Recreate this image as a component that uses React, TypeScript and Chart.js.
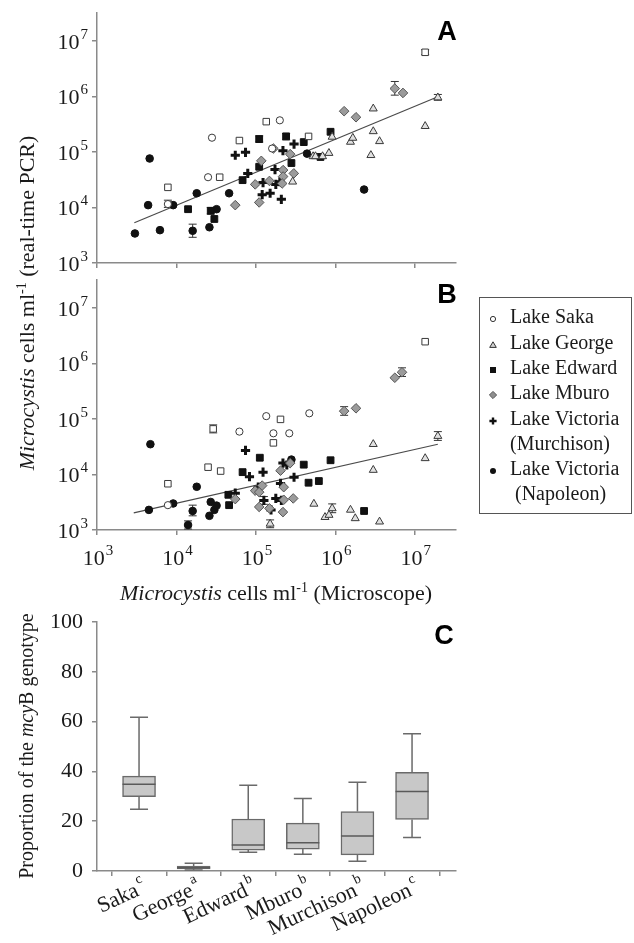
import React, { useEffect, useRef } from 'react';
import { Chart, registerables } from 'chart.js';
Chart.register(...registerables);

const W = 634;
const H = 943;
const SERIF = '"Liberation Serif", "Times New Roman", serif';
const SANS = '"Liberation Sans", Arial, sans-serif';
const AXIS = '#8a8a8a';
const TEXT = '#1a1a1a';

// ---------- log axes ----------
const LOG_TICKS = [1e3, 1e4, 1e5, 1e6, 1e7];
const Y_LOG_MIN = 1e3;
const Y_LOG_MAX = 31600000;
const X_LOG_MIN = 1e3;
const X_LOG_MAX = 33000000;

// ---------- Panel A: [microscope, real-time PCR] ----------
const A_SAKA = [[7800, 11500], [28000, 180000], [25000, 35000], [200000, 370000], [160000, 115000]];
const A_SAKA_SQ = [[7800, 23000], [35000, 35000], [62000, 160000], [135000, 350000], [460000, 190000], [13500000, 6200000]];
const A_GEORGE = [[290000, 29000], [525000, 83000], [562000, 83000], [690000, 83000], [830000, 95000], [910000, 186000], [1550000, 151000], [1660000, 178000], [2800000, 87000], [3000000, 600000], [3000000, 234000], [3600000, 155000], [13500000, 290000], [19500000, 950000]];
const A_EDWARD = [[14000, 9300], [27000, 8700], [30000, 6200], [68000, 31000], [110000, 170000], [110000, 54000], [240000, 190000], [280000, 63000], [400000, 150000], [870000, 230000], [650000, 81000]];
const A_MBURO = [[55000, 11000], [110000, 12300], [98000, 26000], [117000, 69000], [148000, 30000], [220000, 47000], [220000, 36000], [300000, 41000], [270000, 91000], [166000, 115000], [214000, 27000], [1290000, 540000], [1820000, 420000], [5600000, 1380000], [7100000, 1150000]];
const A_MURCH = [[55000, 87000], [74000, 98000], [79000, 41000], [123000, 28000], [174000, 48000], [120000, 17000], [151000, 18000], [178000, 26000], [200000, 29000], [219000, 105000], [302000, 138000], [209000, 14000]];
const A_NAPO = [[3000, 3400], [4400, 11000], [4600, 76000], [6200, 3900], [9100, 11000], [16000, 3800], [26000, 4400], [32000, 9300], [18000, 18000], [46000, 18000], [440000, 93000], [2300000, 21000]];
const A_FIT = [[2950, 5300], [19500000, 980000]];
// error bars: [x, low, high]
const A_ERR = [[16000, 2900, 5000], [7800, 10000, 13500], [5600000, 1050000, 1850000], [27000, 7600, 10000], [110000, 150000, 195000], [240000, 165000, 215000], [19500000, 850000, 1080000], [13500000, 5600000, 6900000]];

// ---------- Panel B: [microscope, real-time PCR] ----------
const B_SAKA = [[7800, 2800], [62000, 59000], [135000, 112000], [166000, 55000], [263000, 55000], [470000, 126000]];
const B_SAKA_SQ = [[7800, 6800], [29000, 66000], [25000, 13500], [36000, 11500], [166000, 37000], [204000, 98000], [13500000, 2450000]];
const B_GEORGE = [[151000, 1290], [537000, 2950], [741000, 1700], [832000, 1860], [912000, 2450], [1550000, 2300], [1780000, 1620], [3000000, 35000], [3000000, 12000], [3600000, 1410], [13500000, 19500], [19500000, 49000]];
const B_EDWARD = [[46000, 2800], [45000, 4300], [68000, 11000], [112000, 20000], [400000, 15000], [460000, 7100], [620000, 7600], [870000, 18000], [2300000, 2200]];
const B_MBURO = [[55000, 3600], [98000, 5100], [110000, 4800], [120000, 6300], [110000, 2600], [148000, 2450], [204000, 11700], [224000, 5900], [224000, 3500], [219000, 2100], [295000, 3700], [270000, 16000], [1290000, 138000], [1820000, 155000], [5600000, 550000], [6900000, 690000]];
const B_MURCH = [[74000, 27000], [83000, 9100], [55000, 4600], [123000, 11000], [107000, 5900], [126000, 3400], [155000, 2300], [178000, 3700], [209000, 3400], [204000, 6900], [219000, 16000], [245000, 14800], [302000, 8900]];
const B_NAPO = [[4500, 2300], [4700, 35000], [9100, 3000], [16000, 2200], [14000, 1230], [18000, 6000], [26000, 1800], [27000, 3200], [30000, 2300], [32000, 2750], [280000, 18500]];
const B_FIT = [[2900, 2040], [19500000, 35000]];
const B_ERR = [[16000, 1800, 2800], [14000, 1040, 1460], [29000, 56000, 78000], [1290000, 116000, 166000], [6900000, 580000, 830000], [151000, 1100, 1520], [19500000, 41000, 59000], [912000, 2050, 2950], [126000, 2900, 4000]];

// ---------- Panel C: box plot ----------
const BOX_CATS = ['Saka', 'George', 'Edward', 'Mburo', 'Murchison', 'Napoleon'];
const BOX_SUP = ['c', 'a', 'b', 'b', 'b', 'c'];
const BOX_MIN = [24.8, 0.4, 7.5, 6.7, 3.9, 13.5];
const BOX_Q1 = [29.9, 0.8, 8.4, 8.8, 6.5, 20.7];
const BOX_MED = [34.8, 1.3, 10.4, 11.3, 14.1, 31.9];
const BOX_Q3 = [38.1, 2.0, 20.9, 19.2, 23.9, 39.6];
const BOX_MAX = [61.7, 3.1, 34.4, 29.1, 35.6, 55.1];
const C_Y_TICKS = [0, 20, 40, 60, 80, 100];

const LEGEND_LABELS = [['Lake Saka'], ['Lake George'], ['Lake Edward'], ['Lake Mburo'], ['Lake Victoria', '(Murchison)'], ['Lake Victoria', '(Napoleon)']];

// ---------- styles ----------
type Sty = { ps: string; r: number; bg: string; bd: string; bw: number };
const ST: Record<string, Sty> = {
  saka: { ps: 'circle', r: 3.6, bg: '#ffffff', bd: '#3a3a3a', bw: 1 },
  sakaSq: { ps: 'rect', r: 4.6, bg: '#ffffff', bd: '#3a3a3a', bw: 1 },
  george: { ps: 'triangle', r: 4.6, bg: '#e0e0e0', bd: '#3a3a3a', bw: 1 },
  edward: { ps: 'rect', r: 4.8, bg: '#111111', bd: '#111111', bw: 1 },
  mburo: { ps: 'rectRot', r: 4.8, bg: '#9b9b9b', bd: '#555555', bw: 1 },
  murch: { ps: 'cross', r: 4.6, bg: '#111111', bd: '#111111', bw: 3 },
  napo: { ps: 'circle', r: 3.8, bg: '#111111', bd: '#111111', bw: 1 },
};

function drawPow(ctx: CanvasRenderingContext2D, exp: number, x: number, yc: number, align: 'right' | 'center') {
  ctx.font = `22px ${SERIF}`;
  const w1 = ctx.measureText('10').width;
  ctx.font = `15px ${SERIF}`;
  const w2 = ctx.measureText(String(exp)).width;
  const x0 = align === 'right' ? x - w1 - w2 - 1 : x - (w1 + w2 + 1) / 2;
  ctx.textAlign = 'left';
  ctx.textBaseline = 'alphabetic';
  ctx.font = `22px ${SERIF}`;
  ctx.fillText('10', x0, yc + 8);
  ctx.font = `15px ${SERIF}`;
  ctx.fillText(String(exp), x0 + w1 + 1, yc - 2);
}

type Seg = { t: string; f: string; dy?: number };
function drawRich(ctx: CanvasRenderingContext2D, segs: Seg[], x: number, y: number, rot: number) {
  ctx.save();
  ctx.translate(x, y);
  ctx.rotate(rot);
  ctx.textAlign = 'left';
  ctx.textBaseline = 'alphabetic';
  const ws = segs.map((s) => {
    ctx.font = s.f;
    return ctx.measureText(s.t).width;
  });
  const total = ws.reduce((a, b) => a + b, 0);
  let cx = -total / 2;
  segs.forEach((s, i) => {
    ctx.font = s.f;
    ctx.fillText(s.t, cx, s.dy || 0);
    cx += ws[i];
  });
  ctx.restore();
}

function panelLetter(ctx: CanvasRenderingContext2D, t: string, x: number, y: number) {
  ctx.save();
  ctx.font = `bold 27px ${SANS}`;
  ctx.fillStyle = '#000';
  ctx.textAlign = 'center';
  ctx.textBaseline = 'middle';
  ctx.fillText(t, x, y);
  ctx.restore();
}

function toXY(arr: number[][]) {
  return arr.map(([x, y]) => ({ x, y }));
}

function ds(data: number[][], s: Sty) {
  return {
    type: 'scatter',
    data: toXY(data),
    pointStyle: s.ps,
    pointRadius: s.r,
    pointBackgroundColor: s.bg,
    pointBorderColor: s.bd,
    pointBorderWidth: s.bw,
    order: 1,
  };
}

function logAxis(isX: boolean) {
  return {
    type: 'logarithmic',
    min: isX ? X_LOG_MIN : Y_LOG_MIN,
    max: isX ? X_LOG_MAX : Y_LOG_MAX,
    afterBuildTicks: (s: any) => {
      s.ticks = LOG_TICKS.map((v) => ({ value: v }));
    },
    afterFit: (s: any) => {
      if (isX) s.height = 10;
      else s.width = 97;
    },
    ticks: { display: false },
    grid: { drawOnChartArea: false, drawTicks: true, tickLength: 5, color: AXIS, lineWidth: 1.5 },
    border: { display: true, color: AXIS, width: 1.5 },
  };
}

function scatterConfig(sets: [number[][], Sty][], fit: number[][], errs: number[][], top: number, bottom: number, showX: boolean, extra: (chart: any) => void) {
  const datasets: any[] = sets.map(([d, s]) => ds(d, s));
  datasets.push({
    type: 'line',
    data: toXY(fit),
    borderColor: '#4a4a4a',
    borderWidth: 1.2,
    pointRadius: 0,
    showLine: true,
    fill: false,
    order: 5,
  });
  return {
    type: 'scatter',
    data: { datasets },
    options: {
      responsive: false,
      animation: false,
      devicePixelRatio: 1,
      layout: { autoPadding: false, padding: { left: 0, right: W - 456, top, bottom: H - bottom - 10 } },
      plugins: { legend: { display: false }, tooltip: { enabled: false } },
      scales: { x: logAxis(true), y: logAxis(false) },
    },
    plugins: [
      {
        id: 'errBars',
        beforeDatasetsDraw(chart: any) {
          const { ctx } = chart;
          const xs = chart.scales.x;
          const ys = chart.scales.y;
          ctx.save();
          ctx.strokeStyle = '#333';
          ctx.lineWidth = 1;
          errs.forEach(([x, lo, hi]) => {
            const px = xs.getPixelForValue(x);
            const a = ys.getPixelForValue(lo);
            const b = ys.getPixelForValue(hi);
            ctx.beginPath();
            ctx.moveTo(px, a); ctx.lineTo(px, b);
            ctx.moveTo(px - 4, a); ctx.lineTo(px + 4, a);
            ctx.moveTo(px - 4, b); ctx.lineTo(px + 4, b);
            ctx.stroke();
          });
          ctx.restore();
        },
      },
      {
        id: 'powLabels',
        afterDraw(chart: any) {
          const { ctx } = chart;
          const xs = chart.scales.x;
          const ys = chart.scales.y;
          ctx.save();
          ctx.fillStyle = TEXT;
          ys.ticks.forEach((t: any) => {
            drawPow(ctx, Math.round(Math.log10(t.value)), ys.right - 9, ys.getPixelForValue(t.value), 'right');
          });
          if (showX) {
            xs.ticks.forEach((t: any) => {
              drawPow(ctx, Math.round(Math.log10(t.value)), xs.getPixelForValue(t.value) + 1, xs.top + 27, 'center');
            });
          }
          ctx.restore();
          extra(chart);
        },
      },
    ],
  };
}

function legendMarker(ctx: CanvasRenderingContext2D, k: string, x: number, y: number) {
  ctx.save();
  ctx.lineWidth = 1;
  if (k === 'saka') {
    ctx.beginPath(); ctx.arc(x, y, 2.6, 0, Math.PI * 2); ctx.fillStyle = '#fff'; ctx.fill(); ctx.strokeStyle = '#333'; ctx.stroke();
  } else if (k === 'george') {
    ctx.beginPath(); ctx.moveTo(x, y - 3.2); ctx.lineTo(x + 3.3, y + 2.4); ctx.lineTo(x - 3.3, y + 2.4); ctx.closePath();
    ctx.fillStyle = '#cfcfcf'; ctx.fill(); ctx.strokeStyle = '#333'; ctx.stroke();
  } else if (k === 'edward') {
    ctx.fillStyle = '#111'; ctx.fillRect(x - 3, y - 3, 6, 6);
  } else if (k === 'mburo') {
    ctx.beginPath(); ctx.moveTo(x, y - 3.6); ctx.lineTo(x + 3.6, y); ctx.lineTo(x, y + 3.6); ctx.lineTo(x - 3.6, y); ctx.closePath();
    ctx.fillStyle = '#8f8f8f'; ctx.fill(); ctx.strokeStyle = '#555'; ctx.stroke();
  } else if (k === 'murch') {
    ctx.strokeStyle = '#111'; ctx.lineWidth = 2.4;
    ctx.beginPath(); ctx.moveTo(x - 3.6, y); ctx.lineTo(x + 3.6, y); ctx.moveTo(x, y - 3.6); ctx.lineTo(x, y + 3.6); ctx.stroke();
  } else {
    ctx.beginPath(); ctx.arc(x, y, 3, 0, Math.PI * 2); ctx.fillStyle = '#111'; ctx.fill();
  }
  ctx.restore();
}

function drawLegend(ctx: CanvasRenderingContext2D) {
  ctx.save();
  ctx.strokeStyle = '#555';
  ctx.lineWidth = 1;
  ctx.strokeRect(479.5, 297.5, 152, 216);
  const keys = ['saka', 'george', 'edward', 'mburo', 'murch', 'napo'];
  const rows = [318, 344, 369, 394, 420, 470];
  ctx.fillStyle = TEXT;
  ctx.font = `20px ${SERIF}`;
  ctx.textAlign = 'left';
  ctx.textBaseline = 'middle';
  LEGEND_LABELS.forEach((lines, i) => {
    legendMarker(ctx, keys[i], 493, rows[i] + 1);
    ctx.fillStyle = TEXT;
    ctx.font = `20px ${SERIF}`;
    ctx.fillText(lines[0], 510, rows[i]);
    if (lines[1]) ctx.fillText(lines[1], i === 5 ? 515 : 510, rows[i] + 25);
  });
  ctx.restore();
}

const YTITLE: Seg[] = [
  { t: 'Microcystis', f: `italic 22px ${SERIF}` },
  { t: ' cells ml', f: `22px ${SERIF}` },
  { t: '-1', f: `14px ${SERIF}`, dy: -8 },
  { t: ' (real-time PCR)', f: `22px ${SERIF}` },
];
const XTITLE: Seg[] = [
  { t: 'Microcystis', f: `italic 22px ${SERIF}` },
  { t: ' cells ml', f: `22px ${SERIF}` },
  { t: '-1', f: `14px ${SERIF}`, dy: -8 },
  { t: ' (Microscope)', f: `22px ${SERIF}` },
];
const CTITLE: Seg[] = [
  { t: 'Proportion of the ', f: `20px ${SERIF}` },
  { t: 'mcy', f: `italic 20px ${SERIF}` },
  { t: 'B genotype', f: `20px ${SERIF}` },
];

function configA() {
  return scatterConfig(
    [
      [A_SAKA_SQ, ST.sakaSq], [A_SAKA, ST.saka], [A_GEORGE, ST.george], [A_MBURO, ST.mburo],
      [A_EDWARD, ST.edward], [A_MURCH, ST.murch], [A_NAPO, ST.napo],
    ],
    A_FIT, A_ERR, 13, 263, false,
    (chart: any) => {
      const { ctx } = chart;
      ctx.save();
      ctx.fillStyle = TEXT;
      drawRich(ctx, YTITLE, 34, 303, -Math.PI / 2);
      ctx.restore();
      panelLetter(ctx, 'A', 447, 33);
    }
  );
}

function configB() {
  return scatterConfig(
    [
      [B_SAKA_SQ, ST.sakaSq], [B_SAKA, ST.saka], [B_GEORGE, ST.george], [B_MBURO, ST.mburo],
      [B_EDWARD, ST.edward], [B_MURCH, ST.murch], [B_NAPO, ST.napo],
    ],
    B_FIT, B_ERR, 280, 530, true,
    (chart: any) => {
      const { ctx } = chart;
      ctx.save();
      ctx.fillStyle = TEXT;
      drawRich(ctx, XTITLE, 276, 600, 0);
      ctx.restore();
      drawLegend(ctx);
      panelLetter(ctx, 'B', 447, 296);
    }
  );
}

function configC() {
  return {
    type: 'bar',
    data: {
      datasets: [
        {
          data: BOX_CATS.map((_, i) => ({ x: i, y: [BOX_Q1[i], BOX_Q3[i]] })),
          backgroundColor: '#c8c8c8',
          borderColor: '#6a6a6a',
          borderWidth: 1.5,
          borderSkipped: false,
          barThickness: 33,
        },
      ],
    },
    options: {
      responsive: false,
      animation: false,
      devicePixelRatio: 1,
      layout: { autoPadding: false, padding: { left: 0, right: W - 456, top: 622, bottom: H - 871 - 10 } },
      plugins: { legend: { display: false }, tooltip: { enabled: false } },
      scales: {
        x: {
          type: 'linear',
          min: -0.77,
          max: 5.805,
          offset: false,
          afterBuildTicks: (s: any) => {
            s.ticks = BOX_CATS.map((_, i) => ({ value: i }));
          },
          afterFit: (s: any) => {
            s.height = 10;
          },
          ticks: { display: false },
          grid: { drawOnChartArea: false, drawTicks: true, tickLength: 5, color: AXIS, lineWidth: 1.5 },
          border: { display: true, color: AXIS, width: 1.5 },
        },
        y: {
          type: 'linear',
          min: 0,
          max: 100,
          afterBuildTicks: (s: any) => {
            s.ticks = C_Y_TICKS.map((v) => ({ value: v }));
          },
          afterFit: (s: any) => {
            s.width = 97;
          },
          ticks: { color: TEXT, font: { family: SERIF, size: 22 }, padding: 9 },
          grid: { drawOnChartArea: false, drawTicks: true, tickLength: 5, color: AXIS, lineWidth: 1.5 },
          border: { display: true, color: AXIS, width: 1.5 },
        },
      },
    },
    plugins: [
      {
        id: 'whiskers',
        beforeDatasetsDraw(chart: any) {
          const { ctx } = chart;
          const xs = chart.scales.x;
          const ys = chart.scales.y;
          ctx.save();
          ctx.strokeStyle = '#6a6a6a';
          ctx.lineWidth = 1.5;
          BOX_CATS.forEach((_, i) => {
            const px = xs.getPixelForValue(i);
            const cap = 9;
            ctx.beginPath();
            ctx.moveTo(px, ys.getPixelForValue(BOX_Q3[i]));
            ctx.lineTo(px, ys.getPixelForValue(BOX_MAX[i]));
            ctx.moveTo(px - cap, ys.getPixelForValue(BOX_MAX[i]));
            ctx.lineTo(px + cap, ys.getPixelForValue(BOX_MAX[i]));
            ctx.moveTo(px, ys.getPixelForValue(BOX_Q1[i]));
            ctx.lineTo(px, ys.getPixelForValue(BOX_MIN[i]));
            ctx.moveTo(px - cap, ys.getPixelForValue(BOX_MIN[i]));
            ctx.lineTo(px + cap, ys.getPixelForValue(BOX_MIN[i]));
            ctx.stroke();
          });
          ctx.restore();
        },
        afterDatasetsDraw(chart: any) {
          const { ctx } = chart;
          const ys = chart.scales.y;
          const meta = chart.getDatasetMeta(0);
          ctx.save();
          ctx.strokeStyle = '#5a5a5a';
          ctx.lineWidth = 1.5;
          meta.data.forEach((bar: any, i: number) => {
            const py = ys.getPixelForValue(BOX_MED[i]);
            ctx.beginPath();
            ctx.moveTo(bar.x - bar.width / 2, py);
            ctx.lineTo(bar.x + bar.width / 2, py);
            ctx.stroke();
          });
          ctx.restore();
        },
        afterDraw(chart: any) {
          const { ctx } = chart;
          const xs = chart.scales.x;
          ctx.save();
          ctx.fillStyle = TEXT;
          BOX_CATS.forEach((c, i) => {
            const px = xs.getPixelForValue(i);
            ctx.save();
            ctx.translate(px + 1, xs.top + 24);
            ctx.rotate((-25 * Math.PI) / 180);
            ctx.textAlign = 'right';
            ctx.textBaseline = 'alphabetic';
            ctx.font = `22px ${SERIF}`;
            ctx.fillText(c, 0, 0);
            ctx.textAlign = 'left';
            ctx.font = `14px ${SERIF}`;
            ctx.fillText(BOX_SUP[i], 2, -11);
            ctx.restore();
          });
          drawRich(ctx, CTITLE, 33, 746, -Math.PI / 2);
          ctx.restore();
          panelLetter(ctx, 'C', 444, 637);
        },
      },
    ],
  };
}

export default function App() {
  const refA = useRef<HTMLCanvasElement>(null);
  const refB = useRef<HTMLCanvasElement>(null);
  const refC = useRef<HTMLCanvasElement>(null);
  useEffect(() => {
    const charts = [
      new Chart(refA.current as HTMLCanvasElement, configA() as any),
      new Chart(refB.current as HTMLCanvasElement, configB() as any),
      new Chart(refC.current as HTMLCanvasElement, configC() as any),
    ];
    return () => charts.forEach((c) => c.destroy());
  }, []);
  const cs: React.CSSProperties = { position: 'absolute', left: 0, top: 0, width: W, height: H };
  return (
    <div style={{ position: 'absolute', left: 0, top: 0, width: W, height: H, background: '#fff', overflow: 'hidden' }}>
      <canvas ref={refA} width={W} height={H} style={cs} />
      <canvas ref={refB} width={W} height={H} style={cs} />
      <canvas ref={refC} width={W} height={H} style={cs} />
    </div>
  );
}
